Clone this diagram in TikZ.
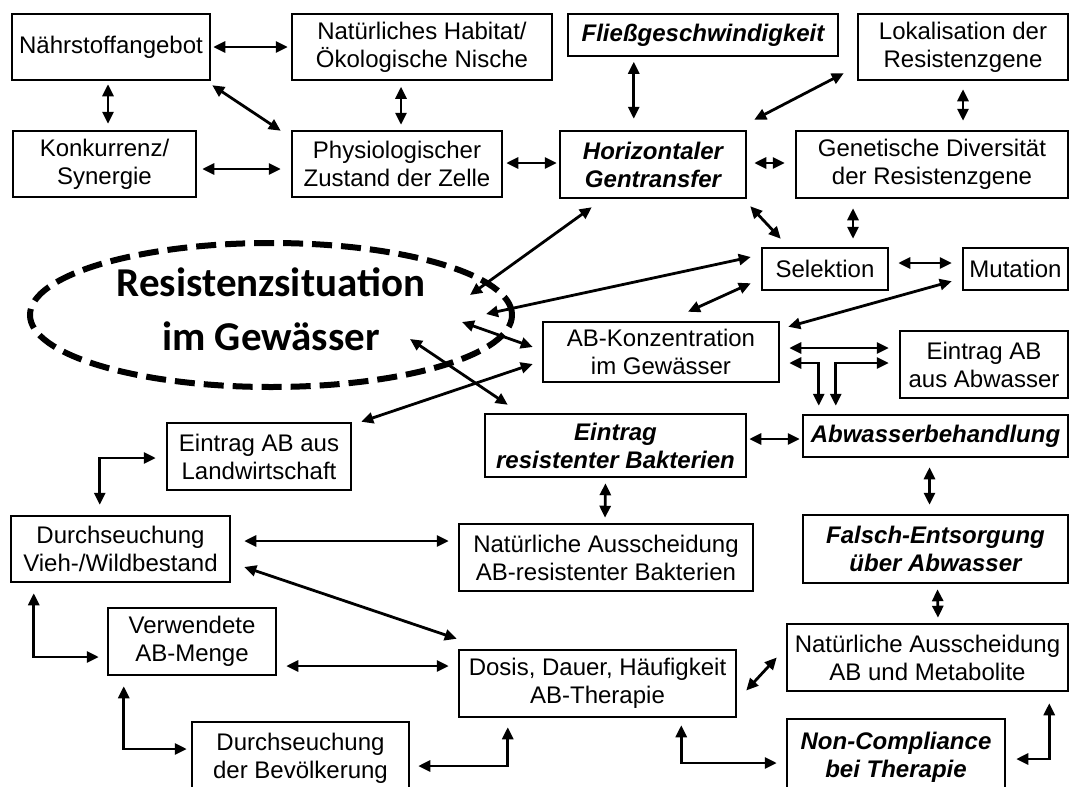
\documentclass[tikz,border=0pt]{standalone}
\usepackage{fontspec}
\setmainfont{Liberation Sans}
\newfontfamily\calibrifont{Carlito}
\usetikzlibrary{arrows.meta,calc,shapes.geometric}

\tikzset{
  kasten/.style={draw, line width=2.5pt, inner sep=0pt, align=center, font=\fontsize{24pt}{28pt}\selectfont},
  fett/.style={kasten, font=\fontsize{24pt}{28pt}\selectfont\bfseries\itshape},
  link/.style={<->, >={Triangle[length=12pt,width=11pt]}, line width=2.8pt},
}

\begin{document}
\begin{tikzpicture}[x=1pt,y=-1pt]

    \useasboundingbox (0,0) rectangle (1071,787);

    \node[kasten, minimum width=198pt, minimum height=66pt] (nahr) at (111,47) {Nährstoffangebot};
    \node[kasten, minimum width=260pt, minimum height=66pt] (habitat) at (422,47) {Natürliches Habitat/\\Ökologische Nische};
    \node[fett, minimum width=270pt, minimum height=42pt] (fliess) at (703,35) {Fließgeschwindigkeit};
    \node[kasten, minimum width=210pt, minimum height=66pt] (lokal) at (963,47) {Lokalisation der\\Resistenzgene};
    \node[kasten, minimum width=183pt, minimum height=66pt] (konk) at (104.5,164) {Konkurrenz/\\Synergie};
    \node[kasten, minimum width=210pt, minimum height=66pt] (physio) at (397,164) {Physiologischer\\Zustand der Zelle};
    \node[fett, minimum width=186pt, minimum height=67pt] (hgt) at (653,164.5) {Horizontaler\\Gentransfer};
    \node[kasten, minimum width=272pt, minimum height=67pt] (gendiv) at (932,164.5) {Genetische Diversität\\der Resistenzgene};
    \node[kasten, minimum width=126pt, minimum height=42pt] (sel) at (825,269) {Selektion};
    \node[kasten, minimum width=105pt, minimum height=42pt] (mut) at (1015.5,269) {Mutation};

    \node[ellipse, draw, line width=6pt, dash pattern=on 20pt off 9pt, minimum width=482pt, minimum height=144pt, inner sep=0pt,
          label={[align=center, yshift=6pt, font=\calibrifont\bfseries\fontsize{41pt}{54pt}\selectfont]center:Resistenzsituation\\im Gewässer}] (ell) at (271,315) {};

    \node[kasten, minimum width=236pt, minimum height=60pt] (abkonz) at (661,352) {AB-Konzentration\\im Gewässer};
    \node[kasten, minimum width=168pt, minimum height=67pt] (eabw) at (984,364.5) {Eintrag AB\\aus Abwasser};
    \node[fett, minimum width=261pt, minimum height=63pt] (eres) at (615.5,445.5) {Eintrag\\resistenter Bakterien};
    \node[fett, minimum width=265pt, minimum height=42pt] (abwbeh) at (935.5,436) {Abwasserbehandlung};
    \node[kasten, minimum width=184pt, minimum height=67pt] (elw) at (259,456.5) {Eintrag AB aus\\Landwirtschaft};
    \node[kasten, minimum width=219pt, minimum height=66pt] (vieh) at (120.5,549) {Durchseuchung\\Vieh-/Wildbestand};
    \node[kasten, minimum width=294pt, minimum height=67pt] (nres) at (606,557.5) {Natürliche Ausscheidung\\AB-resistenter Bakterien};
    \node[fett, minimum width=265pt, minimum height=68pt] (falsch) at (935.5,549) {Falsch-Entsorgung\\über Abwasser};
    \node[kasten, minimum width=168pt, minimum height=67pt] (verw) at (192,641.5) {Verwendete\\AB-Menge};
    \node[kasten, minimum width=277pt, minimum height=67pt] (dosis) at (597.5,683.5) {Dosis, Dauer, Häufigkeit\\AB-Therapie};
    \node[kasten, minimum width=281pt, minimum height=67pt] (nmet) at (927.5,657.5) {Natürliche Ausscheidung\\AB und Metabolite};
    \node[kasten, minimum width=217pt, minimum height=73pt] (bev) at (300.5,758.5) {Durchseuchung\\der Bevölkerung};
    \node[fett, minimum width=218pt, minimum height=76pt] (noncomp) at (896,757) {Non-Compliance\\bei Therapie};

    \draw[link] ($(nahr.east)+(2,0)$) -- ($(habitat.west)+(-3,0)$);
    \draw[link] ($(nahr.south)+(-3,3)$) -- ($(konk.north)+(3.5,-6)$);
    \draw[link] ($(nahr.south east)+(1,4)$) -- ($(physio.north west)+(-10,1)$);
    \draw[link] ($(physio.north)+(4,-43)$) -- ($(physio.north)+(4,-5)$);
    \draw[link] ($(konk.east)+(5,5)$) -- ($(physio.west)+(-10,5)$);
    \draw[link] ($(physio.east)+(3,-1)$) -- ($(hgt.west)+(-2,-1.5)$);
    \draw[link] ($(hgt.north west)+(75,-68)$) -- ($(hgt.north west)+(75,-11)$);
    \draw[link] ($(hgt.north east)+(7,-10)$) -- ($(lokal.south west)+(-13,-8)$);
    \draw[link] ($(hgt.east)+(7,-1.5)$) -- ($(gendiv.west)+(-10,-1.5)$);
    \draw[link] ($(lokal.south)+(0,8)$) -- ($(gendiv.north)+(31,-9)$);
    \draw[link] ($(hgt.south east)+(3,7)$) -- ($(sel.north west)+(20,-8)$);
    \draw[link] ($(gendiv.south)+(-79,9)$) -- ($(sel.north)+(28,-8)$);
    \draw[link] ($(sel.east)+(9,-6)$) -- ($(mut.west)+(-10,-6)$);

    \draw[link] ($(ell.center)+(199,-20)$) -- ($(hgt.south west)+(33,8)$);
    \draw[link] ($(ell.center)+(215,-1)$) -- ($(sel.west)+(-10,-12)$);
    \draw[link] ($(abkonz.north)+(27,-9)$) -- ($(sel.south west)+(-10,-8)$);
    \draw[link] ($(abkonz.north east)+(8,6)$) -- ($(mut.south west)+(-10,-10)$);
    \draw[link] ($(ell.center)+(191,7)$) -- ($(abkonz.west)+(-9,-5)$);
    \draw[link] ($(ell.center)+(139,24)$) -- ($(eres.north west)+(24,-8)$);
    \draw[link] ($(elw.north east)+(9,0)$) -- ($(abkonz.west)+(-9,12)$);

    \draw[link] ($(abkonz.east)+(9,-4)$) -- ($(eabw.west)+(-10,-16.5)$);
    \draw[link] ($(abkonz.east)+(9,11)$) -| ($(abwbeh.north west)+(17,-8)$);
    \draw[link] ($(eabw.west)+(-10,-1.5)$) -| ($(abwbeh.north west)+(34,-8)$);
    \draw[link] ($(eres.east)+(2,-6.5)$) -- ($(abwbeh.west)+(-2,3)$);
    \draw[link] ($(eres.south)+(-10,5)$) -- ($(nres.north)+(-1,-5)$);
    \draw[link] ($(abwbeh.south)+(-6,9)$) -- ($(falsch.north)+(-6,-9)$);
    \draw[link] ($(falsch.south)+(2,5)$) -- ($(nmet.north)+(10.5,-5)$);
    \draw[link] ($(dosis.east)+(9,7)$) -- ($(nmet.west)+(-9,0)$);
    \draw[link] ($(noncomp.east)+(10,2)$) -| ($(nmet.south east)+(-20,11)$);
    \draw[link] ($(dosis.south east)+(-56,7)$) |- ($(noncomp.west)+(-9,6)$);

    \draw[link] ($(vieh.east)+(13,-8)$) -- ($(nres.west)+(-9,-16.5)$);
    \draw[link] ($(vieh.east)+(13,18)$) -- ($(dosis.north west)+(-1,-10)$);
    \draw[link] ($(elw.west)+(-10,1.5)$) -| ($(vieh.north west)+(90,-10)$);
    \draw[link] ($(vieh.south west)+(24,10)$) |- ($(verw.west)+(-8,15.5)$);
    \draw[link] ($(verw.east)+(9,24.5)$) -- ($(dosis.west)+(-9,-17.5)$);
    \draw[link] ($(verw.south west)+(17,10)$) |- ($(bev.west)+(-4,-9.5)$);
    \draw[link] ($(bev.east)+(8,7.5)$) -| ($(dosis.south west)+(50,9)$);

\end{tikzpicture}
\end{document}
